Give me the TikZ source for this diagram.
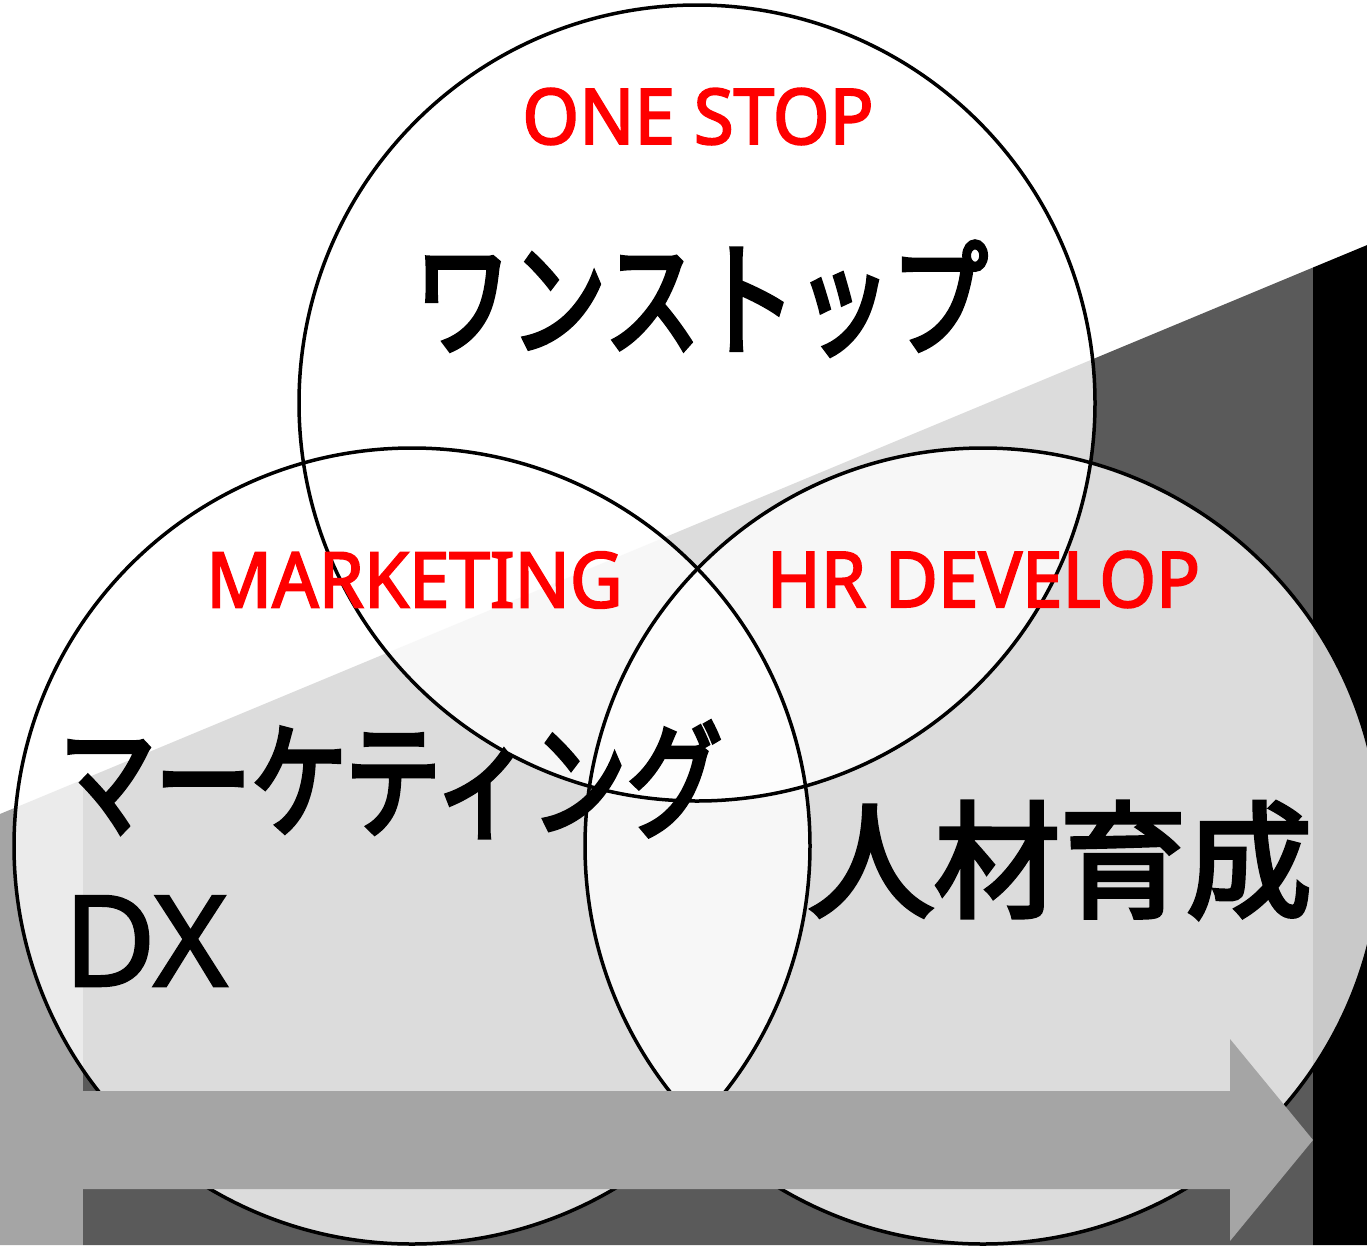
\documentclass[tikz,border=0pt]{standalone}
\usepackage{fontspec}
\setmainfont{Noto Sans}
\newfontfamily\latfont[FakeStretch=0.945,FakeBold=2.5]{Noto Sans}
\newfontfamily\bigfont[FakeBold=2]{Noto Sans}
\newfontfamily\jpfont[FakeBold=3.5]{Noto Sans CJK JP}
\newfontfamily\kanafont[FakeStretch=0.76,FakeBold=3.5]{Noto Sans CJK JP}
\definecolor{stripgray}{HTML}{A5A5A5}
\definecolor{wedgegray}{HTML}{5A5A5A}
\definecolor{arrowgray}{HTML}{A5A5A5}
\begin{document}
\begin{tikzpicture}[x=1pt,y=-1pt,
  circfill/.style={fill=white, fill opacity=0.79},
  circline/.style={draw=black, line width=3.5pt},
  redlbl/.style={text=red, inner sep=0pt, font=\latfont\fontsize{77}{80}\selectfont},
  kanalbl/.style={text=black, inner sep=0pt, font=\kanafont\fontsize{126}{130}\selectfont},
  kanjilbl/.style={text=black, inner sep=0pt, font=\jpfont\fontsize{126}{130}\selectfont},
  latlbl/.style={text=black, inner sep=0pt, font=\bigfont\fontsize{126}{130}\selectfont}]
\clip (0,0) rectangle (1367,1245);
\fill[white] (0,0) rectangle (1367,1245);
% background growth wedge
\fill[stripgray] (0,814) -- (83,779.5) -- (83,1245) -- (0,1245) -- cycle;
\fill[wedgegray] (83,779.5) -- (1313,267.5) -- (1313,1245) -- (83,1245) -- cycle;
\fill[black] (1313,267.5) -- (1367,245.1) -- (1367,1245) -- (1313,1245) -- cycle;
% circles
\coordinate (ct) at (697,403);
\coordinate (cl) at (412,846);
\coordinate (cr) at (983,846);
\fill[circfill] (ct) circle (398pt);
\fill[circfill] (cl) circle (398pt);
\fill[circfill] (cr) circle (398pt);
\draw[circline] (ct) circle (398pt);
\draw[circline] (cl) circle (398pt);
\draw[circline] (cr) circle (398pt);
% big arrow
\fill[arrowgray] (83,1091) -- (1230,1091) -- (1230,1039) -- (1313,1140)
  -- (1230,1241) -- (1230,1189) -- (83,1189) -- cycle;
% labels
\node[redlbl] (onestop) at (698,116.5) {ONE STOP};
\node[kanalbl] (wanstop) at (701,298.5) {ワンストップ};
\node[redlbl] (mkt) at (414.5,580) {MARKETING};
\node[redlbl] (hr) at (983.5,579.5) {HR DEVELOP};
\node[kanalbl] (mktjp) at (391,779.5) {マーケティング};
\node[latlbl] (dx) at (145.5,941) {DX};
\node[kanjilbl] (hrjp) at (1060,860) {人材育成};
\end{tikzpicture}
\end{document}
